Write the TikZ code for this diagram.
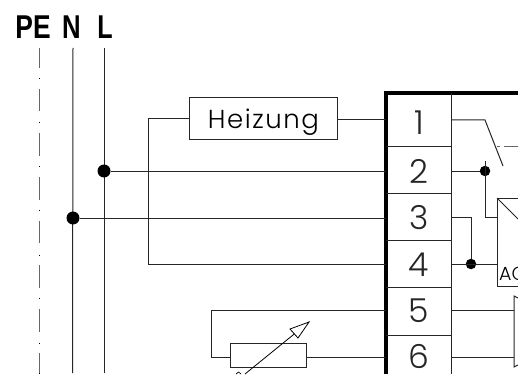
\documentclass[tikz,border=0pt]{standalone}
\usepackage{fontspec}
\setmainfont{Liberation Sans}
\newfontfamily\thinf[LetterSpace=6]{Poppins Light}
\newfontfamily\thind{Poppins Light}
\tikzset{
  wire/.style={line width=1pt,draw=black!85},
  thickwire/.style={line width=3.6pt,draw=black},
  dotj/.style={circle,fill=black,inner sep=0pt,minimum size=13pt},
  dotk/.style={circle,fill=black,inner sep=0pt,minimum size=10.5pt},
  digit/.style={inner sep=0pt,anchor=base,font=\thind\fontsize{33}{33}\selectfont,text=black!85},
  bus/.style={inner sep=0pt,anchor=base,font=\bfseries\fontsize{33}{33}\selectfont,text=black},
  hbox/.style={draw=black!85,line width=1pt,inner sep=0pt},
  dashpe/.style={line width=1pt,draw=black!60}
}
\begin{document}
\begin{tikzpicture}[x=1pt,y=-1pt]
\useasboundingbox (0,0) rectangle (518,374);
\begin{scope}
\clip (0,0) rectangle (518,374);
% bus labels
\node[bus] (pe) at (33,39) {\scalebox{0.8}[1]{PE}};
\node[bus] (n) at (71.5,39) {\scalebox{0.78}[1]{N}};
\node[bus] (l) at (105,39) {\scalebox{0.76}[1]{L}};
% PE line
\foreach \a/\b in {48/68,89/111,133/155.5,177/200,221/243,265/288,309/332,353/373}
  \draw[dashpe] (39,\a) -- (39,\b);
\foreach \d in {78,122,166,210,255,298,343,373}
  \fill (38.6,\d) rectangle +(1,1);
% N, L
\coordinate (ntop) at (73,48);
\coordinate (nbot) at (72.5,373);
\coordinate (ltop) at (104,48);
\coordinate (lbot) at (104,373);
\draw[wire] (ntop) -- (nbot);
\draw[wire] (ltop) -- (lbot);
% junctions
\node[dotj] (jl) at (104,171) {};
\node[dotj] (jn) at (73,218) {};
% terminal frame
\coordinate (tl) at (386,374);
\coordinate (tc) at (386,93);
\coordinate (tr) at (518,93);
\draw[thickwire,line join=miter] (tl) -- (tc) -- (tr);
\draw[wire] (451,93) -- (451,374);
\foreach \y in {146,193,240,287,335}
  \draw[wire] (386,\y) -- (451,\y);
% digits
\node[digit] (d1) at (419,135) {1};
\node[digit] (d2) at (419,183) {2};
\node[digit] (d3) at (419,229) {3};
\node[digit] (d4) at (419,276) {4};
\node[digit] (d5) at (419,322) {5};
\node[digit] (d6) at (419,368.5) {6};
% terminal anchors
\coordinate (p1) at (386,120);
\coordinate (p2) at (386,171);
\coordinate (p3) at (386,218);
\coordinate (p4) at (386,264);
\coordinate (p5) at (386,310);
\coordinate (p6) at (386,357);
% Heizung
\node[hbox,minimum width=148pt,minimum height=42pt,anchor=north west,text height=20pt,text depth=0pt,
  font=\thinf\fontsize{26}{26}\selectfont] (hz) at (189,97) {Heizung};
\draw[wire] (hz.east |- p1) -- (p1);
\draw[wire] (jl) -- (p2);
\draw[wire] (jn) -- (p3);
\draw[wire] (hz.west |- 0,119) -- (148,119) -- (148,264) -- (p4);
% resistor
\node[hbox,minimum width=76pt,minimum height=24pt,anchor=north west] (rs) at (230,343) {};
\draw[wire] (rs.east |- p6) -- (p6);
\draw[wire] (rs.west |- p6) -- (211,357) -- (211,310) -- (p5);
\coordinate (atip) at (309,322);
\coordinate (atail) at (245,374);
\draw[line width=0.8pt] (atail) -- (atip);
\draw[line width=0.8pt,fill=white] (atip) -- (290,329) -- (298,338) -- cycle;
\draw[line width=0.7pt] (236,374) -- (238.5,372) -- (241,374);
% right side
\node[dotk] (j2) at (485,171) {};
\node[dotk] (j4) at (471,264) {};
\coordinate (r1) at (451,120);
\coordinate (r2) at (451,171);
\coordinate (r3) at (451,217.5);
\coordinate (r4) at (451,264);
\coordinate (r5) at (451,310);
\coordinate (r6) at (451,357);
\draw[wire] (r1) -- (485,120) -- (503,166);
\draw[wire] (r2) -- (j2);
\draw[wire] (485,161) -- (485,217) -- (497,217);
\draw[wire] (r3) -- (471,217.5) -- (j4);
\draw[wire] (r4) -- (497,264);
\draw[line width=1pt,draw=black!60] (497,146) -- (500,146) (504,146) -- (518,146);
\draw[wire] (518,198) -- (497,198) -- (497,286) -- (518,286);
\draw[wire] (497,198) -- (518,219);
\node[inner sep=0pt,anchor=base west,font=\thind\fontsize{19}{19}\selectfont] (ac) at (499,280) {AC};
\draw[wire] (r5) -- (514,310);
\draw[wire] (r6) -- (514,357);
\draw[wire] (518,298) -- (514,296) -- (514,367) -- (518,365);
\end{scope}
\end{tikzpicture}
\end{document}
